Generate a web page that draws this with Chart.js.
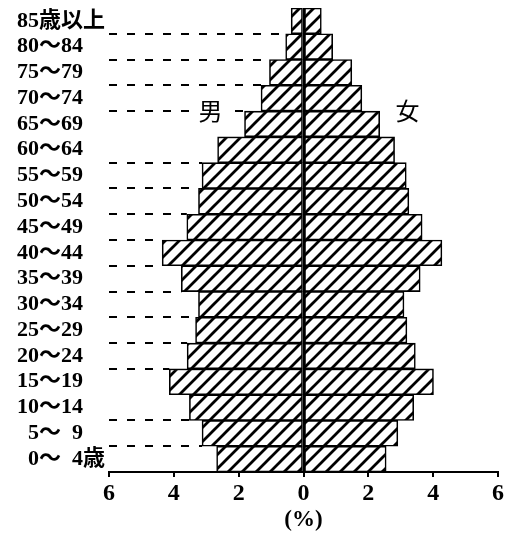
<!DOCTYPE html>
<html><head><meta charset="utf-8">
<script src="https://cdn.jsdelivr.net/npm/chart.js@4"></script>
<style>html,body{margin:0;padding:0;background:#fff;}#wrap{width:508px;height:537px;}</style>
</head><body><div id="wrap"><canvas id="c" width="508" height="537"></canvas></div>
<script>
const ageGroups = ["85歳以上","80～84","75～79","70～74","65～69","60～64","55～59","50～54","45～49","40～44","35～39","30～34","25～29","20～24","15～19","10～14","  5～  9","  0～  4歳"];
const male   = [0.38,0.55,1.05,1.31,1.82,2.65,3.13,3.24,3.60,4.36,3.77,3.24,3.33,3.59,4.14,3.52,3.13,2.68];
const female = [0.55,0.90,1.49,1.80,2.35,2.81,3.17,3.25,3.66,4.27,3.60,3.10,3.19,3.45,4.01,3.40,2.91,2.55];
const xTickValues = [-6,-4,-2,0,2,4,6];
const sexLabels = ["男","女"];
const unitLabel = "(%)";
const guideSkip = [4,14];

function hatch(){
  const s=14, c=document.createElement('canvas'); c.width=s; c.height=s;
  const g=c.getContext('2d');
  g.fillStyle='#fff'; g.fillRect(0,0,s,s);
  g.strokeStyle='#000'; g.lineWidth=2.8; g.lineCap='square';
  g.beginPath();
  for(let k=-1;k<=1;k++){ g.moveTo(k*s-1,s+1); g.lineTo(k*s+s+1,-1); }
  g.stroke();
  return g.createPattern(c,'repeat');
}
const ctx=document.getElementById('c').getContext('2d');
const pat=hatch();
const serif='"Liberation Serif","Noto Sans CJK JP"';

const guides={
  id:'guides',
  beforeDatasetsDraw(chart){
    const {ctx}=chart, xs=chart.scales.x, ys=chart.scales.y;
    ctx.save();
    ctx.strokeStyle='#000'; ctx.lineWidth=2; ctx.setLineDash([8,10]);
    for(let i=0;i<ageGroups.length-1;i++){
      if(guideSkip.includes(i)) continue;
      const y=Math.round((ys.getPixelForValue(i)+ys.getPixelForValue(i+1))/2);
      const x0=xs.getPixelForValue(-6), x1=xs.getPixelForValue(-Math.max(male[i],male[i+1]));
      ctx.beginPath(); ctx.moveTo(x0,y); ctx.lineTo(x1,y); ctx.stroke();
    }
    ctx.restore();
  },
  afterDraw(chart){
    const {ctx}=chart, xs=chart.scales.x, ys=chart.scales.y;
    const y=(ys.getPixelForValue(3)+ys.getPixelForValue(4))/2;
    ctx.save();
    ctx.font='24px "Noto Sans CJK JP"';
    ctx.textAlign='center'; ctx.textBaseline='middle';
    const xm=xs.getPixelForValue(-2.87), xf=xs.getPixelForValue(3.21);
    ctx.fillStyle='#fff'; ctx.fillRect(xm-16,y-13,32,26);
    ctx.fillStyle='#000';
    ctx.fillText(sexLabels[0],xm,y);
    ctx.fillText(sexLabels[1],xf,y);
    ctx.restore();
  }
};

new Chart(ctx,{
  type:'bar',
  data:{labels:ageGroups,datasets:[
    {label:'男',data:male.map(v=>-v),backgroundColor:pat,borderColor:'#000',borderWidth:1.6,borderSkipped:false,barPercentage:1,categoryPercentage:1},
    {label:'女',data:female,backgroundColor:pat,borderColor:'#000',borderWidth:1.6,borderSkipped:false,barPercentage:1,categoryPercentage:1}
  ]},
  options:{
    indexAxis:'y',responsive:false,animation:false,
    layout:{padding:{left:17,right:10,top:8,bottom:0}},
    plugins:{legend:{display:false},tooltip:{enabled:false}},
    scales:{
      x:{stacked:true,min:-6,max:6,
        afterBuildTicks(s){s.ticks=xTickValues.map(v=>({value:v}));},
        ticks:{callback:v=>String(Math.abs(v)),color:'#000',padding:2,maxRotation:0,
          font:{family:serif,weight:'bold',size:24}},
        grid:{drawOnChartArea:true,color:c=>c.tick&&c.tick.value===0?'#000':'rgba(0,0,0,0)',lineWidth:2,
          drawTicks:true,tickLength:5,tickColor:'#000',tickWidth:2},
        border:{display:true,color:'#000',width:2},
        title:{display:true,text:unitLabel,color:'#000',padding:{top:0,bottom:3},
          font:{family:serif,weight:'bold',size:23}},
        afterFit(s){s.height=65;s.paddingLeft=0;s.paddingRight=0;}
      },
      y:{stacked:true,
        ticks:{crossAlign:'far',color:'#000',padding:0,autoSkip:false,
          font:{family:serif,weight:'bold',size:22}},
        grid:{display:false},border:{display:false},
        afterFit(s){s.width=92;s.paddingTop=0;s.paddingBottom=0;}
      }
    }
  },
  plugins:[guides]
});
</script></body></html>
